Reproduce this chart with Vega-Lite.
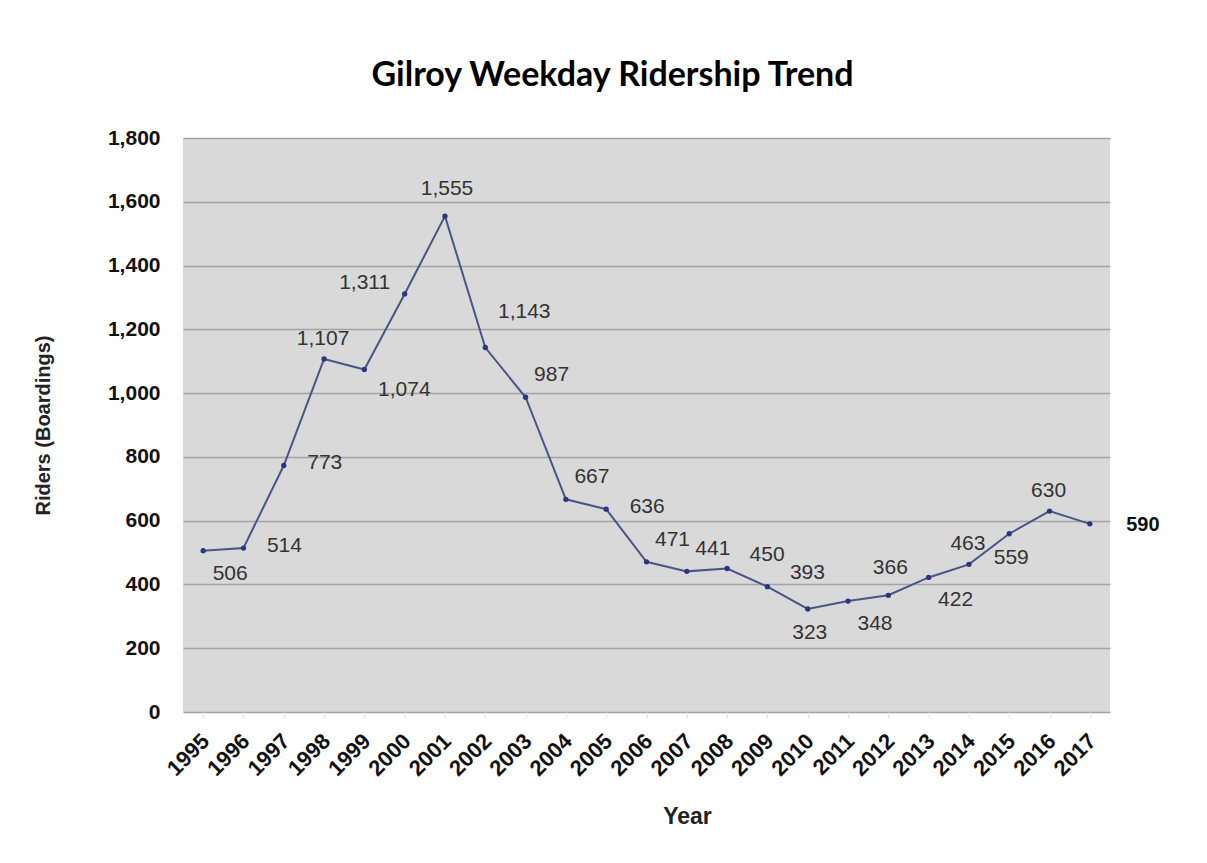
{
  "$schema": "https://vega.github.io/schema/vega-lite/v6.json",
  "width": 927,
  "height": 574,
  "autosize": {"type": "none"},
  "padding": {"left": 183, "top": 138, "right": 97, "bottom": 151},
  "background": "white",
  "config": {
    "view": {"fill": "#d9d9d9", "stroke": null},
    "font": "Liberation Sans"
  },
  "title": {
    "text": "Gilroy Weekday Ridership Trend",
    "font": "Lato",
    "fontSize": 34,
    "fontWeight": "bold",
    "color": "#000000",
    "anchor": "middle",
    "baseline": "alphabetic",
    "dx": -34,
    "offset": 7
  },
  "data": {
    "values": [
      {"year": "1995", "riders": 506},
      {"year": "1996", "riders": 514},
      {"year": "1997", "riders": 773},
      {"year": "1998", "riders": 1107},
      {"year": "1999", "riders": 1074},
      {"year": "2000", "riders": 1311},
      {"year": "2001", "riders": 1555},
      {"year": "2002", "riders": 1143},
      {"year": "2003", "riders": 987},
      {"year": "2004", "riders": 667},
      {"year": "2005", "riders": 636},
      {"year": "2006", "riders": 471},
      {"year": "2007", "riders": 441},
      {"year": "2008", "riders": 450},
      {"year": "2009", "riders": 393},
      {"year": "2010", "riders": 323},
      {"year": "2011", "riders": 348},
      {"year": "2012", "riders": 366},
      {"year": "2013", "riders": 422},
      {"year": "2014", "riders": 463},
      {"year": "2015", "riders": 559},
      {"year": "2016", "riders": 630},
      {"year": "2017", "riders": 590}
    ]
  },
  "encoding": {
    "x": {
      "field": "year",
      "type": "ordinal",
      "scale": {"type": "point", "padding": 0.5},
      "axis": {
        "title": "Year",
        "titleFont": "Liberation Sans",
        "titleFontSize": 23,
        "titleFontWeight": "bold",
        "titleColor": "#222222",
        "titleX": 504,
        "titleY": 104,
        "titleBaseline": "middle",
        "titleAnchor": "start",
        "titleAlign": "center",
        "labelAngle": -45,
        "labelFont": "Liberation Sans",
        "labelFontSize": 22,
        "labelFontWeight": "bold",
        "labelColor": "#111111",
        "labelPadding": 12,
        "labelOffset": -5,
        "domain": false,
        "ticks": true,
        "tickColor": "#e4e4e4",
        "tickSize": 6,
        "grid": false
      }
    },
    "y": {
      "field": "riders",
      "type": "quantitative",
      "scale": {"domain": [0, 1800]},
      "axis": {
        "title": "Riders (Boardings)",
        "titleFont": "Liberation Sans",
        "titleFontSize": 20,
        "titleFontWeight": "bold",
        "titleColor": "#222222",
        "titleX": -130,
        "titleY": 287,
        "titleAnchor": "start",
        "titleAlign": "center",
        "values": [0, 200, 400, 600, 800, 1000, 1200, 1400, 1600, 1800],
        "format": ",.0f",
        "labelFont": "Liberation Sans",
        "labelFontSize": 21,
        "labelFontWeight": "bold",
        "labelColor": "#111111",
        "labelPadding": 23,
        "ticks": false,
        "domain": false,
        "grid": true,
        "gridColor": "#a3a3a3",
        "gridWidth": 1.5
      }
    }
  },
  "layer": [
    {
      "mark": {"type": "line", "color": "#4a5585", "strokeWidth": 2}
    },
    {
      "mark": {"type": "point", "shape": "circle", "filled": true, "color": "#2b3580", "size": 28, "opacity": 1}
    },
    {
      "transform": [{"filter": {"field": "year", "oneOf": ["1998", "2016", "2014"]}}],
      "mark": {"type": "text", "fontSize": 21, "color": "#333333", "dx": -1, "dy": -20},
      "encoding": {"text": {"field": "riders", "type": "quantitative", "format": ","}}
    },
    {
      "transform": [{"filter": {"field": "year", "oneOf": ["2001", "2012"]}}],
      "mark": {"type": "text", "fontSize": 21, "color": "#333333", "dx": 2, "dy": -27},
      "encoding": {"text": {"field": "riders", "type": "quantitative", "format": ","}}
    },
    {
      "transform": [{"filter": {"field": "year", "oneOf": ["2010", "2015"]}}],
      "mark": {"type": "text", "fontSize": 21, "color": "#333333", "dx": 2, "dy": 24},
      "encoding": {"text": {"field": "riders", "type": "quantitative", "format": ","}}
    },
    {
      "transform": [{"filter": {"field": "year", "oneOf": ["1995", "2011", "2013"]}}],
      "mark": {"type": "text", "fontSize": 21, "color": "#333333", "dx": 27, "dy": 23},
      "encoding": {"text": {"field": "riders", "type": "quantitative", "format": ","}}
    },
    {
      "transform": [{"filter": {"field": "year", "oneOf": ["1999"]}}],
      "mark": {"type": "text", "fontSize": 21, "color": "#333333", "dx": 40, "dy": 20},
      "encoding": {"text": {"field": "riders", "type": "quantitative", "format": ","}}
    },
    {
      "transform": [{"filter": {"field": "year", "oneOf": ["1996", "1997", "2005"]}}],
      "mark": {"type": "text", "fontSize": 21, "color": "#333333", "dx": 41, "dy": -2},
      "encoding": {"text": {"field": "riders", "type": "quantitative", "format": ","}}
    },
    {
      "transform": [{"filter": {"field": "year", "oneOf": ["2017"]}}],
      "mark": {"type": "text", "fontSize": 20, "fontWeight": "bold", "color": "#111111", "dx": 53, "dy": 1},
      "encoding": {"text": {"field": "riders", "type": "quantitative", "format": ","}}
    },
    {
      "transform": [{"filter": {"field": "year", "oneOf": ["2003", "2004", "2006", "2007"]}}],
      "mark": {"type": "text", "fontSize": 21, "color": "#333333", "dx": 26, "dy": -22},
      "encoding": {"text": {"field": "riders", "type": "quantitative", "format": ","}}
    },
    {
      "transform": [{"filter": {"field": "year", "oneOf": ["2008", "2009"]}}],
      "mark": {"type": "text", "fontSize": 21, "color": "#333333", "dx": 40, "dy": -14},
      "encoding": {"text": {"field": "riders", "type": "quantitative", "format": ","}}
    },
    {
      "transform": [{"filter": {"field": "year", "oneOf": ["2002"]}}],
      "mark": {"type": "text", "fontSize": 21, "color": "#333333", "dx": 39, "dy": -36},
      "encoding": {"text": {"field": "riders", "type": "quantitative", "format": ","}}
    },
    {
      "transform": [{"filter": {"field": "year", "oneOf": ["2000"]}}],
      "mark": {"type": "text", "fontSize": 21, "color": "#333333", "dx": -40, "dy": -11},
      "encoding": {"text": {"field": "riders", "type": "quantitative", "format": ","}}
    }
  ]
}
